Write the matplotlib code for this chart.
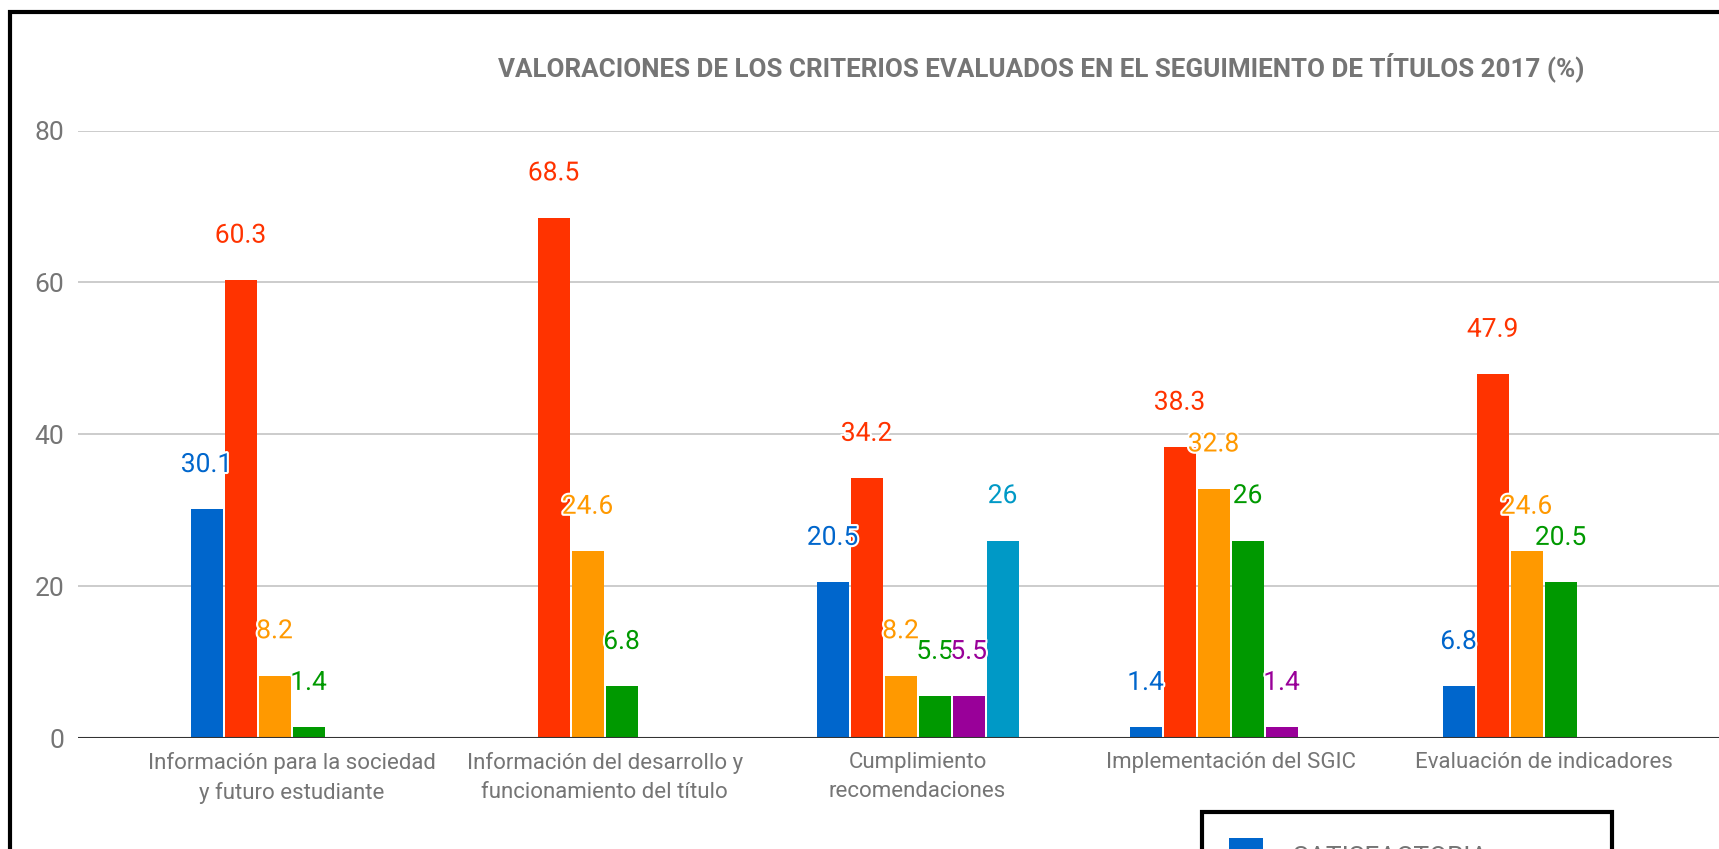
import matplotlib
matplotlib.use("Agg")
import matplotlib.pyplot as plt
import matplotlib.patheffects as pe
from matplotlib.patches import Rectangle
import numpy as np

# ---- data ----
categories = [
    "Información para la sociedad\ny futuro estudiante",
    "Información del desarrollo y\nfuncionamiento del título",
    "Cumplimiento\nrecomendaciones",
    "Implementación del SGIC",
    "Evaluación de indicadores",
]
series_names = ["SATISFACTORIA", "ADECUADA", "SUFICIENTE", "INSUFICIENTE", "NO PROCEDE", "NO EVALUADO"]
satisfactoria = [30.1, 0, 20.5, 1.4, 6.8]
serie_2 = [60.3, 68.5, 34.2, 38.3, 47.9]
serie_3 = [8.2, 24.6, 8.2, 32.8, 24.6]
serie_4 = [1.4, 6.8, 5.5, 26, 20.5]
serie_5 = [0, 0, 5.5, 1.4, 0]
serie_6 = [0, 0, 26, 0, 0]
yticks = [0, 20, 40, 60, 80]
title = "VALORACIONES DE LOS CRITERIOS EVALUADOS EN EL SEGUIMIENTO DE TÍTULOS 2017 (%)"

series = [satisfactoria, serie_2, serie_3, serie_4, serie_5, serie_6]
colors = ["#0066cc", "#ff3300", "#ff9900", "#009900", "#990099", "#0099c6"]

W, H = 1719, 849
fig = plt.figure(figsize=(W / 100, H / 100), dpi=100)
fig.patch.set_facecolor("white")

x0_px, y0_px, ytop_px = 78, 738, 130.5
ax = fig.add_axes([x0_px / W, (H - y0_px) / H, 1 - x0_px / W, (y0_px - ytop_px) / H])

center0, step = 291.6, 313.0
ax.set_xlim((x0_px - center0) / step, (W - center0) / step)
ax.set_ylim(0, 80)

slot = 34 / step
bw = 32 / step
x = np.arange(len(categories))
n = len(series)
for i, (vals, col) in enumerate(zip(series, colors)):
    pos = x + (i - (n - 1) / 2) * slot
    ax.bar(pos, vals, width=bw, color=col, zorder=3)
    for p, v in zip(pos, vals):
        if v > 0:
            ax.annotate(f"{v:g}", (p, v), xytext=(0, 32), textcoords="offset points",
                        ha="center", va="center", fontsize=19, color=col,
                        family="Roboto", zorder=5,
                        path_effects=[pe.withStroke(linewidth=3, foreground="white")])

ax.set_yticks(yticks)
ax.yaxis.grid(True, color="#cccccc", linewidth=1.4, zorder=0)
ax.set_axisbelow(True)
ax.axhline(0, color="#333333", linewidth=1.5, zorder=4)
for s in ax.spines.values():
    s.set_visible(False)
ax.tick_params(axis="y", length=0, pad=10, labelsize=19, labelcolor="#757575")
ax.tick_params(axis="x", length=0, pad=10, labelsize=16, labelcolor="#757575")
ax.set_xticks(x)
ax.set_xticklabels(categories, family="Roboto", linespacing=1.5)
for t in ax.get_yticklabels():
    t.set_family("Roboto")

# title
tt = fig.text(1041.5 / W, 1 - 67 / H, title, ha="center", va="center",
              fontsize=18, fontweight="bold", color="#757575",
              family=["Liberation Sans Narrow", "Roboto"])
fig.canvas.draw()
w = tt.get_window_extent().width
tt.set_fontsize(18 * 1090 / w)

# legend (cut off at the bottom edge, only first entry visible)
fig.patches.append(Rectangle((1202 / W, -0.3), 410 / W, 0.3 + (H - 812) / H,
                             transform=fig.transFigure, facecolor="white",
                             edgecolor="black", linewidth=3, zorder=10))
top = 838
fig.patches.append(Rectangle((1229 / W, (H - top - 34) / H), 34 / W, 34 / H,
                             transform=fig.transFigure, facecolor=colors[0],
                             edgecolor="none", zorder=11))
fig.text(1293 / W, (H - 846) / H, series_names[0], ha="left", va="top",
         fontsize=19, color="#757575", family="Roboto", zorder=11)

# outer frame
fig.patches.append(Rectangle((10 / W, -0.2), 2.0, 0.2 + (H - 12) / H,
                             transform=fig.transFigure, facecolor="none",
                             edgecolor="black", linewidth=3, zorder=12))

fig.savefig("out.png", dpi=100, facecolor="white")
